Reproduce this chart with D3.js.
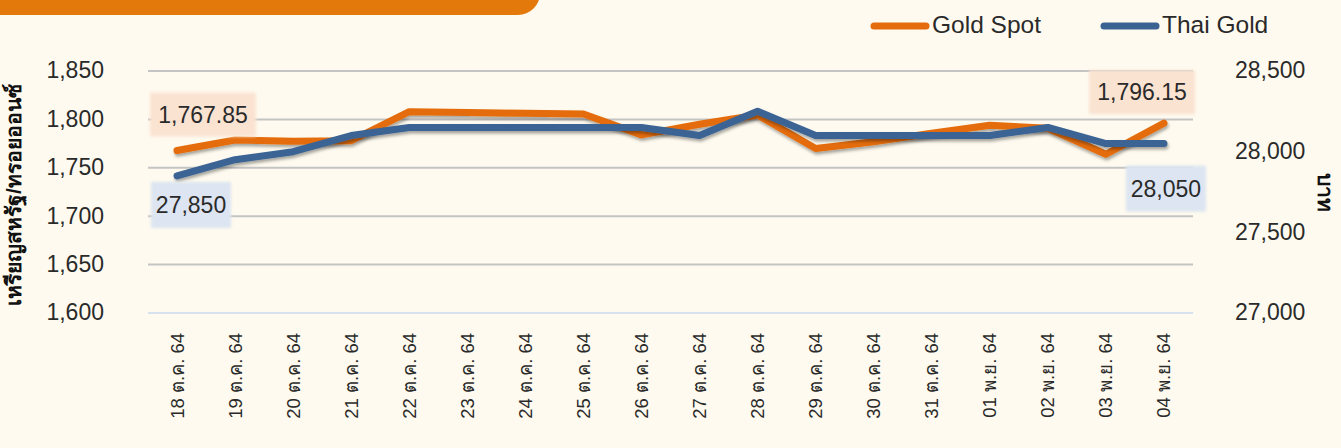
<!DOCTYPE html>
<html><head><meta charset="utf-8">
<script src="https://cdn.jsdelivr.net/npm/d3@7"></script>
<style>
html,body{margin:0;padding:0;background:#FEFAEF;}
svg{display:block;}
</style></head>
<body>
<svg id="chart" width="1341" height="448"></svg>
<script>
const categories = ["18 ต.ค. 64","19 ต.ค. 64","20 ต.ค. 64","21 ต.ค. 64","22 ต.ค. 64","23 ต.ค. 64","24 ต.ค. 64","25 ต.ค. 64","26 ต.ค. 64","27 ต.ค. 64","28 ต.ค. 64","29 ต.ค. 64","30 ต.ค. 64","31 ต.ค. 64","01 พ.ย. 64","02 พ.ย. 64","03 พ.ย. 64","04 พ.ย. 64"];
const goldSpot = [1767.85,1778.7,1777.5,1778,1808,1807,1806.3,1805.6,1784,1795,1804.5,1770,1777,1785.6,1794,1790.8,1764,1796.15];
const thaiGold = [27850,27950,28000,28100,28150,28150,28150,28150,28150,28100,28250,28100,28100,28100,28100,28150,28050,28050];
const leftTicks = [1600,1650,1700,1750,1800,1850];
const rightTicks = [27000,27500,28000,28500];
const seriesNames = ["Gold Spot","Thai Gold"];
const leftTitle = "เหรียญสหรัฐ/ทรอยออนซ์";
const rightTitle = "บาท";

const FONT = "'Liberation Sans', 'Noto Sans', sans-serif";
const ORANGE = "#E46C0A", BLUE = "#3A6394", TXT = "#2a2a2a";
const svg = d3.select("#chart");
const defs = svg.append("defs");
const sh = defs.append("filter").attr("id","sh").attr("x","-10%").attr("y","-50%").attr("width","120%").attr("height","200%");
sh.append("feDropShadow").attr("dx",1).attr("dy",2.5).attr("stdDeviation",1.8).attr("flood-color","#000").attr("flood-opacity",0.35);
const bl = defs.append("filter").attr("id","bl").attr("x","-20%").attr("y","-20%").attr("width","140%").attr("height","140%");
bl.append("feGaussianBlur").attr("stdDeviation",1.5);

// banner
svg.append("rect").attr("x",-30).attr("y",-40).attr("width",570).attr("height",55).attr("rx",22).attr("fill","#E4790B");

const x = d3.scaleBand().domain(categories).range([148,1193]);
const yL = d3.scaleLinear().domain([1600,1850]).range([313,71]);
const yR = d3.scaleLinear().domain([27000,28500]).range([313,71]);

// gridlines
svg.append("g").selectAll("line").data(leftTicks).join("line")
  .attr("x1",148).attr("x2",1193).attr("y1",d=>yL(d)).attr("y2",d=>yL(d))
  .attr("stroke",d=>d===1600?"#D6E2F0":"#C4C4C4").attr("stroke-width",2);

// left axis
const gl = svg.append("g").attr("transform","translate(104,0)")
  .call(d3.axisLeft(yL).tickValues(leftTicks).tickSize(0).tickPadding(0).tickFormat(d3.format(",")));
gl.select(".domain").remove();
gl.selectAll("text").attr("font-family",FONT).attr("font-size",23).attr("fill",TXT).attr("dy","0.3em");

// right axis
const gr = svg.append("g").attr("transform","translate(1235,0)")
  .call(d3.axisRight(yR).tickValues(rightTicks).tickSize(0).tickPadding(0).tickFormat(d3.format(",")));
gr.select(".domain").remove();
gr.selectAll("text").attr("font-family",FONT).attr("font-size",23).attr("fill",TXT).attr("dy","0.3em");

// x labels
svg.append("g").selectAll("text").data(categories).join("text")
  .attr("transform",d=>`translate(${x(d)+x.bandwidth()/2},333) rotate(-90)`)
  .attr("text-anchor","end").attr("dy","0.35em")
  .attr("font-family",FONT).attr("font-size",18.5).attr("fill",TXT).text(d=>d);

// titles
svg.append("text").attr("transform","translate(14,195) rotate(-90)").attr("text-anchor","middle").attr("dy","0.35em")
  .attr("font-family",FONT).attr("font-weight","bold").attr("font-size",21).attr("fill","#111").text(leftTitle);
svg.append("text").attr("transform","translate(1325,192) rotate(90)").attr("text-anchor","middle").attr("dy","0.35em")
  .attr("font-family",FONT).attr("font-weight","bold").attr("font-size",21).attr("fill","#111").text(rightTitle);

// lines
const cx = d=>x(d)+x.bandwidth()/2;
const lineL = d3.line().x((d,i)=>cx(categories[i])).y(d=>yL(d));
const lineR = d3.line().x((d,i)=>cx(categories[i])).y(d=>yR(d));
svg.append("path").datum(goldSpot).attr("d",lineL).attr("fill","none").attr("stroke",ORANGE)
  .attr("stroke-width",7).attr("stroke-linejoin","round").attr("stroke-linecap","round").attr("filter","url(#sh)");
svg.append("path").datum(thaiGold).attr("d",lineR).attr("fill","none").attr("stroke",BLUE)
  .attr("stroke-width",7).attr("stroke-linejoin","round").attr("stroke-linecap","round").attr("filter","url(#sh)");

// data labels
const n = categories.length-1;
const labels = [
  {x:cx(categories[0])+26, y:yL(goldSpot[0])-36, w:106, h:44, bg:"#FBE3D2", t:d3.format(",.2f")(goldSpot[0])},
  {x:cx(categories[n])-22, y:yL(goldSpot[n])-31, w:106, h:44, bg:"#FBE3D2", t:d3.format(",.2f")(goldSpot[n])},
  {x:cx(categories[0])+14, y:yR(thaiGold[0])+29, w:80, h:46, bg:"#DCE5F1", t:d3.format(",")(thaiGold[0])},
  {x:cx(categories[n])+2, y:yR(thaiGold[n])+45, w:80, h:46, bg:"#DCE5F1", t:d3.format(",")(thaiGold[n])}
];
const lg = svg.append("g").selectAll("g").data(labels).join("g");
lg.append("rect").attr("x",d=>d.x-d.w/2).attr("y",d=>d.y-d.h/2).attr("width",d=>d.w).attr("height",d=>d.h)
  .attr("fill",d=>d.bg).attr("filter","url(#bl)");
lg.append("text").attr("x",d=>d.x).attr("y",d=>d.y).attr("text-anchor","middle").attr("dy","0.36em")
  .attr("font-family",FONT).attr("font-size",23).attr("fill",TXT).text(d=>d.t);

// legend
const legend = [{x:874,c:ORANGE,t:seriesNames[0]},{x:1104,c:BLUE,t:seriesNames[1]}];
const lgd = svg.append("g").selectAll("g").data(legend).join("g");
lgd.append("line").attr("x1",d=>d.x).attr("x2",d=>d.x+52).attr("y1",26).attr("y2",26)
  .attr("stroke",d=>d.c).attr("stroke-width",7).attr("stroke-linecap","round");
lgd.append("text").attr("x",d=>d.x+58).attr("y",24).attr("dy","0.35em")
  .attr("font-family",FONT).attr("font-size",24.5).attr("fill",TXT).text(d=>d.t);
</script>
</body></html>
